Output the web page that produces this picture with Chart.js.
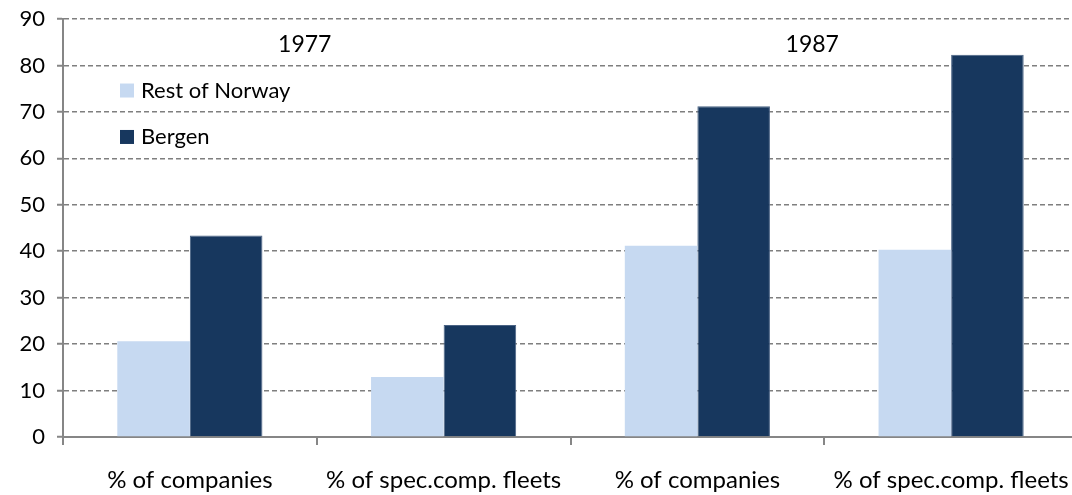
<!DOCTYPE html>
<html>
<head>
<meta charset="utf-8">
<script src="https://cdn.jsdelivr.net/npm/chart.js@4.4.0/dist/chart.umd.min.js"></script>
<style>
  html, body { margin: 0; padding: 0; background: #fff; overflow: hidden; }
  #wrap { width: 1078px; height: 495px; }
</style>
</head>
<body>
<div id="wrap"><canvas id="grafico"></canvas></div>
<script>
const categorias = ['% of companies', '% of spec.comp. fleets', '% of companies', '% of spec.comp. fleets'];
const restOfNorway = [20.6, 12.9, 41.2, 40.3];
const bergen = [43.4, 24.1, 71.2, 82.3];
const anos = ['1977', '1987'];
const yTicks = [0, 10, 20, 30, 40, 50, 60, 70, 80, 90];

const fonte = 'Lato, "Open Sans", sans-serif';

// Legenda e rótulos dos anos desenhados dentro da área do gráfico
const extras = {
  id: 'extras',
  afterDraw(chart) {
    const ctx = chart.ctx;
    const x = chart.scales.x;
    const y = chart.scales.y;
    ctx.save();
    ctx.font = '23px ' + fonte;
    ctx.fillStyle = '#000';
    ctx.textAlign = 'center';
    ctx.textBaseline = 'middle';
    // anos: centrados entre os dois grupos de cada período
    anos.forEach((ano, i) => {
      const px = x.getPixelForValue(i * 2 + 0.5) - 12;
      ctx.fillText(ano, px, y.getPixelForValue(84.6));
    });
    // legenda
    ctx.font = '22px ' + fonte;
    ctx.textAlign = 'left';
    chart.data.datasets.forEach((ds, i) => {
      const py = y.getPixelForValue(74.6 - i * 10);
      ctx.fillStyle = ds.backgroundColor;
      ctx.fillRect(120, py - 7, 14, 14);
      ctx.fillStyle = '#000';
      ctx.fillText(ds.label, 141, py);
    });
    ctx.restore();
  }
};

const ctx = document.getElementById('grafico').getContext('2d');
new Chart(ctx, {
  type: 'bar',
  data: {
    labels: categorias,
    datasets: [
      {
        label: 'Rest of Norway',
        data: restOfNorway,
        backgroundColor: '#C6D9F1',
        borderWidth: 0,
        barPercentage: 1,
        categoryPercentage: 0.572
      },
      {
        label: 'Bergen',
        data: bergen,
        backgroundColor: '#17375E',
        borderColor: '#4A6384',
        borderWidth: 1,
        barPercentage: 1,
        categoryPercentage: 0.572
      }
    ]
  },
  options: {
    responsive: true,
    maintainAspectRatio: false,
    animation: false,
    layout: { padding: { top: 19, right: 0, left: 0, bottom: 0 } },
    plugins: {
      legend: { display: false },
      tooltip: { enabled: false }
    },
    scales: {
      x: {
        afterFit: function(scale) {
          scale.height = 58;
          scale.paddingLeft = 0;
          scale.paddingRight = 0;
        },
        grid: {
          offset: true,
          drawOnChartArea: false,
          drawTicks: true,
          tickLength: 8,
          color: '#868686',
          lineWidth: 2
        },
        border: { color: '#868686', width: 2 },
        ticks: {
          color: '#000',
          font: { family: fonte, size: 24 },
          padding: 21,
          maxRotation: 0,
          autoSkip: false
        }
      },
      y: {
        min: 0,
        max: 90,
        afterFit: function(scale) {
          scale.width = 63;
          scale.paddingTop = 0;
          scale.paddingBottom = 0;
        },
        afterBuildTicks: function(scale) {
          scale.ticks = yTicks.map(v => ({ value: v }));
        },
        grid: {
          color: '#7f7f7f',
          lineWidth: 1.5,
          tickLength: 6,
          tickBorderDash: [],
          tickColor: '#868686',
          tickWidth: 2
        },
        border: { color: '#868686', width: 2, dash: [5, 3] },
        ticks: {
          color: '#000',
          font: { family: fonte, size: 22 },
          padding: 12
        }
      }
    }
  },
  plugins: [extras]
});
</script>
</body>
</html>
